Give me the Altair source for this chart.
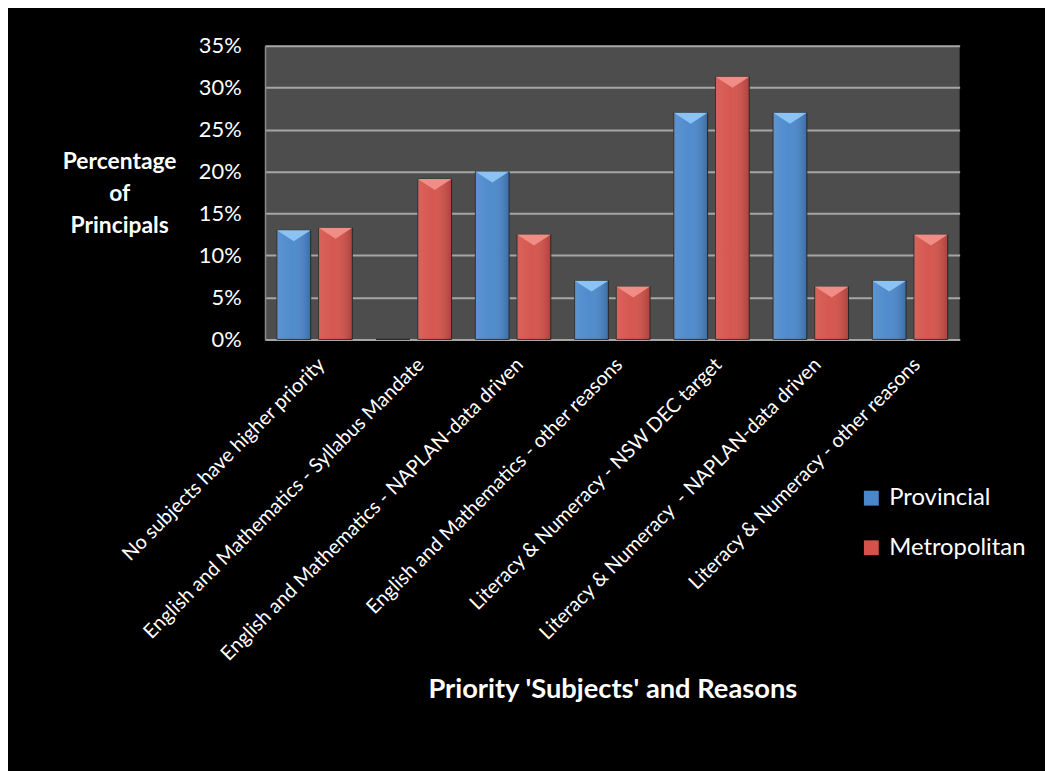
import altair as alt
import pandas as pd

categories = [
    "No subjects have higher priority",
    "English and Mathematics - Syllabus Mandate",
    "English and Mathematics - NAPLAN-data driven",
    "English and Mathematics - other reasons",
    "Literacy & Numeracy - NSW DEC target",
    "Literacy & Numeracy \u00a0- NAPLAN-data driven",
    "Literacy & Numeracy - other reasons",
]
series = ["Provincial", "Metropolitan"]
provincial = [13.0, 0.0, 20.0, 7.0, 27.0, 27.0, 7.0]
metropolitan = [13.3, 19.1, 12.5, 6.3, 31.3, 6.3, 12.5]
y_ticks = [0, 0.05, 0.10, 0.15, 0.20, 0.25, 0.30, 0.35]

df = pd.DataFrame({
    "Category": categories * 2,
    "Series": [series[0]] * len(categories) + [series[1]] * len(categories),
    "Value": [v / 100 for v in provincial + metropolitan],
})

FONT = "Lato"

x_enc = alt.X(
    "Category:N", sort=categories,
    scale=alt.Scale(paddingInner=0.24, paddingOuter=0.12),
    axis=alt.Axis(
        title="Priority 'Subjects' and Reasons",
        labelAngle=-45, labelAlign="right", labelBaseline="top",
        labelPadding=15, labelFontSize=20, labelColor="white", labelFont=FONT,
        labelLimit=600, ticks=False, domainColor="#a6a6a6", domainWidth=2,
        titleFont=FONT, titleFontSize=27.5, titleFontWeight="bold", titleColor="white",
        titleX=350, titleY=353, titleAlign="center", titleBaseline="middle",
    ),
)
xo_enc = alt.XOffset("Series:N", sort=series,
                     scale=alt.Scale(paddingInner=0.19, paddingOuter=0))
y_enc = alt.Y(
    "Value:Q", scale=alt.Scale(domain=[0, 0.35], nice=False),
    axis=alt.Axis(
        values=y_ticks, format=".0%", grid=True, gridColor="#a6a6a6", gridWidth=2,
        ticks=False, domain=True, domainColor="#8c8c8c", domainWidth=1.5,
        labelFont=FONT, labelFontSize=22, labelColor="white", labelPadding=24,
        title=["Percentage", "of", "Principals"], titleAngle=0,
        titleFont=FONT, titleFontSize=23, titleFontWeight="bold", titleColor="white",
        titleAlign="center", titleBaseline="top", titleX=-147, titleY=106,
        titleLineHeight=32,
    ),
)

base = alt.Chart(df)

bars = base.mark_bar(stroke="#2a2a2a", strokeWidth=1).encode(
    x=x_enc, xOffset=xo_enc, y=y_enc,
    color=alt.Color(
        "Series:N", sort=series,
        scale=alt.Scale(domain=series, range=["#4a88cc", "#d4524a"]),
        legend=alt.Legend(
            title=None, orient="none", legendX=599, legendY=444,
            symbolType="square", symbolSize=225, symbolStrokeWidth=0,
            symbolOpacity=1,
            labelFont=FONT, labelFontSize=24, labelColor="white",
            labelOffset=6, rowPadding=26, padding=0,
        ),
    ),
)

shade = base.mark_bar(
    fill=alt.Gradient(
        gradient="linear", x1=0, y1=0, x2=1, y2=0,
        stops=[
            alt.GradientStop(offset=0, color="rgba(255,255,255,0.10)"),
            alt.GradientStop(offset=0.45, color="rgba(255,255,255,0.03)"),
            alt.GradientStop(offset=1, color="rgba(0,0,0,0.20)"),
        ],
    ),
    strokeWidth=0,
).encode(x=x_enc, xOffset=xo_enc, y=y_enc)

bevel = base.transform_filter("datum.Value > 0").mark_point(
    shape="M-1,-1L1,-1L0,-0.35Z", filled=True, size=1156, yOffset=17,
    opacity=1, strokeWidth=0,
).encode(
    x=x_enc, xOffset=xo_enc, y=y_enc,
    fill=alt.Fill(
        "Series:N", sort=series,
        scale=alt.Scale(domain=series, range=["#8cc3f2", "#f08d86"]),
        legend=None,
    ),
)

chart = (
    alt.layer(bars, shade, bevel)
    .resolve_scale(fill="independent")
    .properties(
        width=700, height=296,
        autosize=alt.AutoSizeParams(type="none"),
        padding={"left": 259, "top": 35, "right": 86, "bottom": 432},
        background="black",
    )
    .configure_view(fill="#4d4d4d", strokeWidth=0)
)

chart.save("out.html", embed_options={"renderer": "svg", "actions": False})
